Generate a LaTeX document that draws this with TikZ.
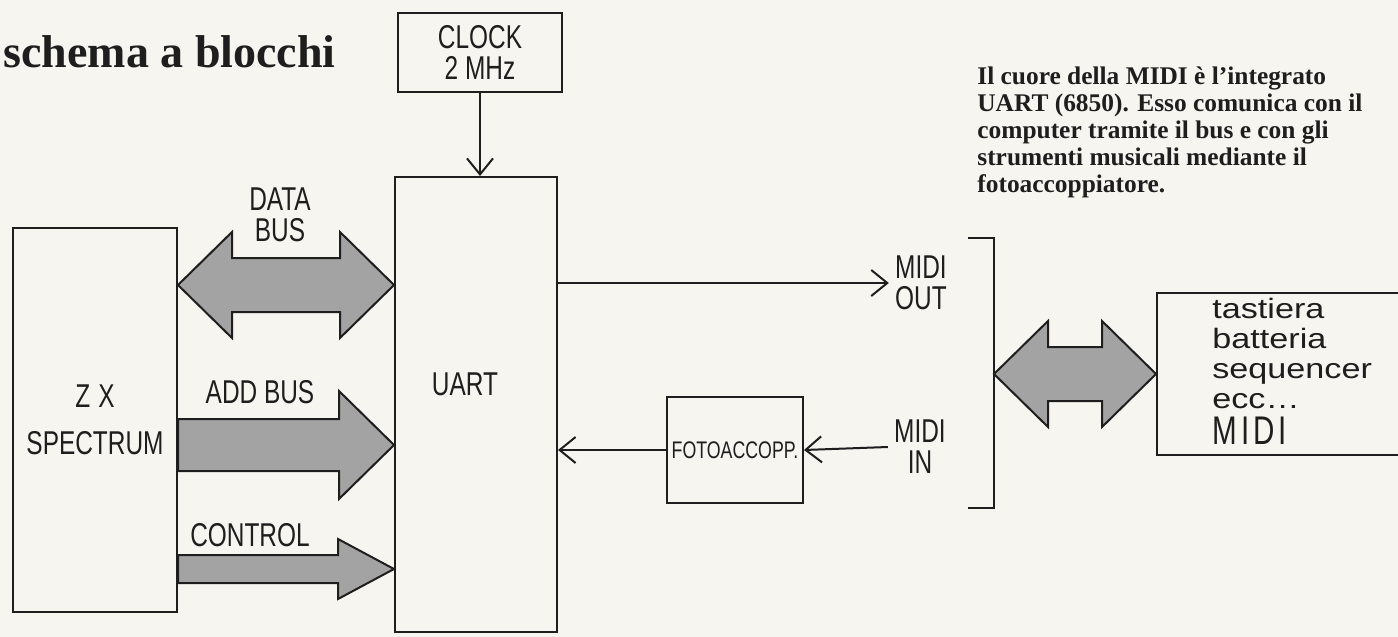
\documentclass[tikz,border=0pt]{standalone}
\usepackage{fontspec}
\setmainfont{Liberation Serif}
\newfontfamily\handfont[FakeStretch=0.74]{Liberation Sans}
\newfontfamily\handwide[FakeStretch=1.22]{Liberation Sans}
\usepackage{xcolor}
\usepackage{tikz}
\usetikzlibrary{arrows.meta,positioning,calc}
\definecolor{inkK}{HTML}{1E1E1E}
\definecolor{paperW}{HTML}{F7F5F0}
\definecolor{busG}{HTML}{A3A3A3}

\tikzset{
  blk/.style={draw=inkK, line width=1pt, inner sep=0pt, align=center,
              font=\handfont\fontsize{16.5}{15.5}\selectfont, text=inkK},
  lbl/.style={inner sep=3pt, align=center,
              font=\handfont\fontsize{16.5}{15.5}\selectfont, text=inkK},
  sig/.style={draw=inkK, line width=1pt, -{Straight Barb[length=8pt,width=13pt]}},
  bus/.style={draw=inkK, line width=1pt, fill=busG, line join=miter},
}

% fat bus arrows: from, to, head length, head half width, shaft half width
\newcommand{\fatarrow}[5]{%
  \filldraw[bus] ($(#1)+(0,-#5)$) -- ($(#2)+(-#3,-#5)$) -- ++(0,#5-#4) -- (#2)
    -- ($(#2)+(-#3,#4)$) -- ++(0,#5-#4) -- ($(#1)+(0,#5)$) -- cycle;}
\newcommand{\fatdouble}[5]{%
  \filldraw[bus] (#1) -- ($(#1)+(#3,-#4)$) -- ++(0,#4-#5) -- ($(#2)+(-#3,-#5)$)
    -- ++(0,#5-#4) -- (#2) -- ($(#2)+(-#3,#4)$) -- ++(0,#5-#4)
    -- ($(#1)+(#3,#5)$) -- ++(0,#4-#5) -- cycle;}

\begin{document}
\begin{tikzpicture}[x=0.5pt, y=-0.5pt]
  \path[use as bounding box, fill=paperW] (0,0) rectangle (1398,637);

  % title and note
  \node[anchor=base west, inner sep=0pt, text=inkK,
        font=\bfseries\fontsize{23}{27}\selectfont] (title) at (3,67) {schema a blocchi};
  \node[anchor=north west, inner sep=0pt, align=left, text=inkK,
        font=\bfseries\fontsize{12.7}{13.5}\selectfont] (note) at (977,66)
    {Il cuore della MIDI è l’integrato\\UART (6850). Esso comunica con il\\
     computer tramite il bus e con gli\\strumenti musicali mediante il\\fotoaccoppiatore.};

  % blocks
  \node[blk, minimum width=82pt, minimum height=192pt] (zx) at (95,420) {Z\kern4pt X\\[8pt]SPECTRUM};
  \node[blk, minimum width=81pt, minimum height=227.5pt] (uart) at (476,404.5) {};
  \node[lbl] (uartlbl) at (465,384) {UART};
  \node[blk, minimum width=82pt, minimum height=39.5pt] (clock) at (480,52.5) {CLOCK\\2 MHz};
  \node[blk, minimum width=68pt, minimum height=53pt,
        font=\handfont\fontsize{12}{12}\selectfont] (foto) at (735,450) {FOTOACCOPP.};
  \node[blk, minimum width=132pt, minimum height=81pt] (dev) at (1289,374) {};
  \node[anchor=north west, inner sep=0pt, align=left, text=inkK,
        font=\handwide\fontsize{14}{15}\selectfont] (devlist) at (1212,298)
    {tastiera\\batteria\\sequencer\\ecc\dots\\[3pt]{\handfont\fontsize{20}{20}\selectfont M\kern2pt I\kern2pt D\kern2pt I}};

  % MIDI ports
  \node[lbl] (midiout) at (921,283) {MIDI\\OUT};
  \node[lbl] (midiin) at (920,447) {MIDI\\IN};
  \draw[inkK, line width=1pt] (968,238) -| (994,508) -- (968,508);
  \coordinate (plug) at (994,374);

  % bus labels
  \node[lbl] (datalbl) at (280,215) {DATA\\BUS};
  \node[lbl] (addlbl) at (260,392) {ADD BUS};
  \node[lbl] (ctrllbl) at (250,535) {CONTROL};

  % fat buses
  \coordinate (data-a) at (zx.east |- 0,285);
  \coordinate (data-b) at (uart.west |- 0,285);
  \fatdouble{data-a}{data-b}{54}{53}{27}
  \coordinate (add-a) at (zx.east |- 0,445);
  \coordinate (add-b) at (uart.west |- 0,445);
  \fatarrow{add-a}{add-b}{55}{54}{26}
  \coordinate (ctrl-a) at (zx.east |- 0,569);
  \coordinate (ctrl-b) at (uart.west |- 0,569);
  \fatarrow{ctrl-a}{ctrl-b}{56}{30}{14}
  \fatdouble{plug}{dev.west}{54}{53}{27}

  % thin signals
  \draw[sig] (clock.south) -- (clock.south |- uart.north);
  \draw[sig] (uart.east |- midiout) -- (midiout.west);
  \draw[sig] (midiin.west) -- (foto.east);
  \draw[sig] (foto.west) -- (uart.east |- foto.west);
\end{tikzpicture}
\end{document}
